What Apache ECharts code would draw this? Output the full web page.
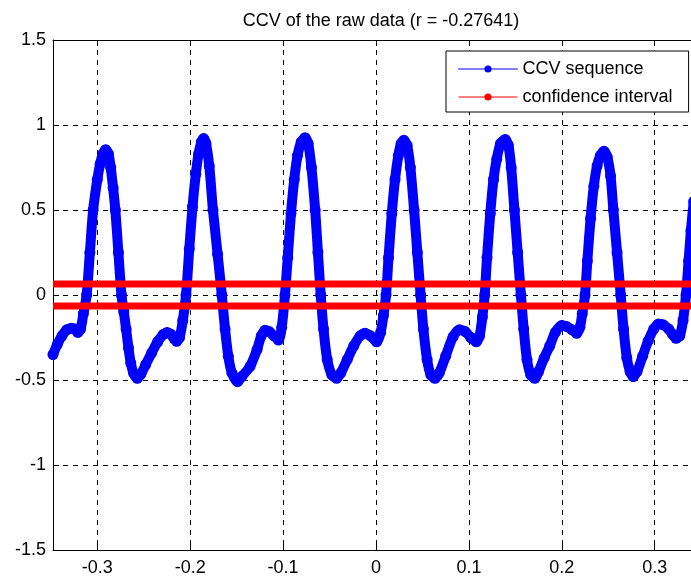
<!DOCTYPE html>
<html>
<head>
<meta charset="utf-8">
<script src="https://cdn.jsdelivr.net/npm/echarts@6/dist/echarts.min.js"></script>
<style>html,body{margin:0;padding:0;background:#fff}#c{width:691px;height:577px}</style>
</head>
<body>
<div id="c"></div>
<script>
var titleText = 'CCV of the raw data (r = -0.27641)';
var seriesNames = ['CCV sequence', 'confidence interval'];
var xTicks = [-0.3, -0.2, -0.1, 0, 0.1, 0.2, 0.3];
var yTicks = [-1.5, -1, -0.5, 0, 0.5, 1, 1.5];
var xRange = [-0.3477, 0.3477];
var yRange = [-1.5, 1.5];
var confLevel = [0.065, -0.065];

var lags = [
 -0.3477,-0.343,-0.338,-0.333,-0.328,-0.324,-0.321,-0.318,-0.315,-0.3115,
 -0.308,-0.3045,-0.300,-0.297,-0.294,-0.291,-0.288,-0.2856,-0.283,-0.2806,
 -0.2773,-0.274,-0.2715,-0.269,-0.2665,-0.264,-0.261,-0.257,-0.253,-0.248,
 -0.2415,-0.235,-0.229,-0.225,-0.221,-0.2175,-0.2146,-0.2115,-0.208,-0.2045,
 -0.201,-0.1975,-0.194,-0.191,-0.188,-0.1855,-0.183,-0.1795,-0.1755,-0.1705,
 -0.166,-0.1625,-0.159,-0.155,-0.149,-0.1445,-0.1356,-0.128,-0.1235,-0.1195,
 -0.115,-0.11,-0.105,-0.1015,-0.098,-0.095,-0.0915,-0.088,-0.0845,-0.0805,
 -0.0764,-0.073,-0.0695,-0.0655,-0.0625,-0.0595,-0.0565,-0.0525,-0.0475,-0.0423,
 -0.038,-0.031,-0.024,-0.017,-0.0118,-0.006,0.0007,0.005,0.008,0.0108,
 0.0135,0.017,0.0205,0.024,0.027,0.030,0.0335,0.037,0.041,0.0445,
 0.048,0.051,0.055,0.059,0.0635,0.068,0.075,0.083,0.09,0.096,
 0.102,0.108,0.1115,0.1145,0.117,0.1195,0.123,0.1265,0.13,0.134,
 0.139,0.1425,0.1455,0.149,0.1525,0.156,0.159,0.1625,0.1665,0.171,
 0.175,0.181,0.187,0.193,0.1999,0.205,0.211,0.216,0.2195,0.222,
 0.225,0.2275,0.231,0.2345,0.238,0.2415,0.2454,0.249,0.2525,0.2555,
 0.2595,0.2634,0.2665,0.27,0.2735,0.277,0.281,0.287,0.293,0.299,
 0.304,0.309,0.315,0.319,0.323,0.327,0.3305,0.3337,0.3365,0.339,0.342
];
var ccv = [
 -0.35,-0.29,-0.24,-0.205,-0.195,-0.2,-0.22,-0.2,-0.11,0.0,
 0.25,0.5,0.68,0.77,0.83,0.855,0.83,0.75,0.63,0.5,
 0.25,0.0,-0.1,-0.2,-0.31,-0.4,-0.46,-0.49,-0.465,-0.41,
 -0.34,-0.275,-0.232,-0.22,-0.23,-0.255,-0.272,-0.25,-0.15,0.0,
 0.27,0.52,0.71,0.83,0.9,0.92,0.89,0.76,0.5,0.24,
 0.0,-0.2,-0.36,-0.46,-0.51,-0.48,-0.42,-0.32,-0.24,-0.208,
 -0.215,-0.24,-0.265,-0.19,0.0,0.22,0.48,0.68,0.82,0.9,
 0.925,0.89,0.75,0.5,0.25,0.0,-0.2,-0.38,-0.47,-0.49,
 -0.46,-0.38,-0.3,-0.24,-0.225,-0.24,-0.275,-0.22,-0.12,0.0,
 0.22,0.48,0.68,0.82,0.89,0.91,0.88,0.75,0.5,0.25,
 0.0,-0.2,-0.38,-0.47,-0.49,-0.46,-0.36,-0.245,-0.205,-0.215,
 -0.25,-0.275,-0.24,-0.13,0.0,0.22,0.48,0.68,0.8,0.89,
 0.915,0.88,0.75,0.5,0.25,0.0,-0.2,-0.38,-0.47,-0.49,
 -0.45,-0.37,-0.3,-0.22,-0.18,-0.185,-0.205,-0.225,-0.19,-0.11,
 0.0,0.2,0.45,0.64,0.76,0.82,0.845,0.81,0.7,0.5,
 0.25,0.0,-0.2,-0.37,-0.45,-0.48,-0.45,-0.36,-0.27,-0.2,
 -0.17,-0.175,-0.2,-0.23,-0.255,-0.24,-0.15,0.0,0.2,0.38,0.55
];

var ccvData = lags.map(function (x, i) { return [x, ccv[i]]; });
function ciLine(v) { return [[xRange[0], v], [xRange[1], v]]; }

var FONT = 'Liberation Sans';
var chart = echarts.init(document.getElementById('c'), null, {renderer: 'canvas'});
chart.setOption({
  backgroundColor: '#ffffff',
  animation: false,
  title: {
    text: titleText, left: 376, top: 7, textAlign: 'center',
    textStyle: {fontFamily: FONT, fontSize: 18, fontWeight: 'normal', color: '#000'}
  },
  legend: {
    data: seriesNames,
    orient: 'vertical', left: 446, top: 51,
    padding: [9, 16, 6, 12], itemGap: 10,
    itemWidth: 59, itemHeight: 9,
    borderColor: '#000', borderWidth: 1, borderRadius: 0,
    backgroundColor: '#fff',
    lineStyle: {width: 1},
    textStyle: {fontFamily: FONT, fontSize: 18, color: '#000'},
    selectedMode: false
  },
  grid: {left: 53, width: 646, top: 40, bottom: 27, containLabel: false, outerBoundsMode: 'none'},
  xAxis: [{
    type: 'value', min: xRange[0], max: xRange[1], position: 'bottom',
    axisLine: {show: true, onZero: false, lineStyle: {color: '#000', width: 1}},
    axisTick: {show: true, inside: true, length: 6, customValues: xTicks, lineStyle: {color: '#000'}},
    axisLabel: {show: true, customValues: xTicks, margin: 9, color: '#000', fontFamily: FONT, fontSize: 18},
    splitLine: {show: true, lineStyle: {color: '#000', type: [5, 5], width: 1}}
  }, {
    type: 'value', min: xRange[0], max: xRange[1], position: 'top',
    axisLine: {show: true, onZero: false, lineStyle: {color: '#000', width: 1}},
    axisTick: {show: true, inside: true, length: 6, customValues: xTicks, lineStyle: {color: '#000'}},
    axisLabel: {show: false},
    splitLine: {show: false}
  }],
  yAxis: [{
    type: 'value', min: yRange[0], max: yRange[1],
    axisLine: {show: true, onZero: false, lineStyle: {color: '#000', width: 1}},
    axisTick: {show: true, inside: true, length: 6, customValues: yTicks, lineStyle: {color: '#000'}},
    axisLabel: {show: true, customValues: yTicks, margin: 7, color: '#000', fontFamily: FONT, fontSize: 18},
    splitLine: {show: true, lineStyle: {color: '#000', type: [5, 5], width: 1}}
  }],
  series: [{
    name: seriesNames[0], type: 'line', data: ccvData,
    xAxisIndex: 0, yAxisIndex: 0,
    smooth: 0.3,
    symbol: 'circle', symbolSize: 11, showSymbol: true, showAllSymbol: true,
    itemStyle: {color: '#0000ff'},
    lineStyle: {color: '#0000ff', width: 10, cap: 'round', join: 'round'},
    z: 2
  }, {
    name: seriesNames[1], type: 'line', data: ciLine(confLevel[0]),
    symbol: 'none', itemStyle: {color: '#ff0000'},
    lineStyle: {color: '#ff0000', width: 7}, z: 3
  }, {
    name: seriesNames[1], type: 'line', data: ciLine(confLevel[1]),
    symbol: 'none', itemStyle: {color: '#ff0000'},
    lineStyle: {color: '#ff0000', width: 7}, z: 3
  }]
});
</script>
</body>
</html>
